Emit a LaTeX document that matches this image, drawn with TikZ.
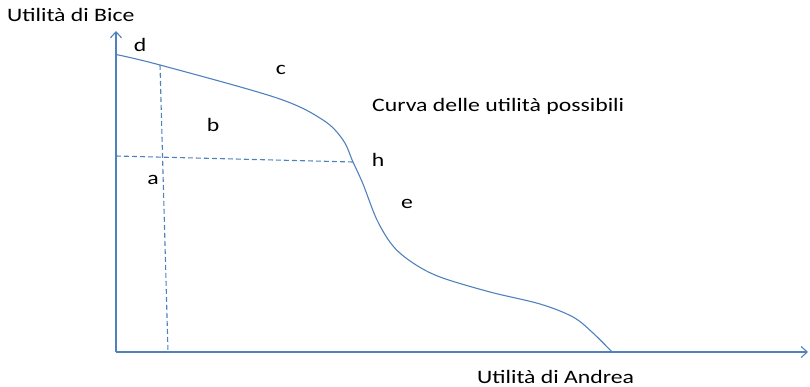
\documentclass[tikz,border=0pt]{standalone}
\usepackage{fontspec}
\setmainfont{Carlito}[FakeStretch=1.25]
\usepackage{xcolor}
\usetikzlibrary{positioning,arrows.meta}
\definecolor{curveblue}{RGB}{79,129,189}

\begin{document}
\begin{tikzpicture}[
    x=1pt, y=-1pt,
    axis/.style={curveblue, line width=1.1pt, -{Straight Barb[length=6pt,width=11pt]}},
    curve/.style={curveblue, line width=1.1pt},
    guide/.style={curveblue, line width=1.1pt, dash pattern=on 5pt off 3pt},
    lbl/.style={font=\fontsize{19}{22}\selectfont, inner sep=0pt},
  ]
  \useasboundingbox (0,0) rectangle (810,387);
  % Axes
  \coordinate (O)    at (116,352);
  \coordinate (ytop) at (116,31);
  \coordinate (xend) at (808,352);
  \draw[axis] (O) -- (ytop);
  \draw[axis] (O) -- (xend);
  % Utility possibility curve
  \coordinate (d) at (116,54.5);
  \coordinate (p) at (160,65);
  \coordinate (h) at (353,162);
  \coordinate (end) at (612,352);
  \draw[curve] plot[smooth, tension=0.55] coordinates {
      (d) (p) (277,98) (323,120) (343,140) (h) (363,184) (377,220)
      (393,246) (413,263) (440,277) (490,292) (540,304) (573,317)
      (593,333) (end)};
  % Dashed guides
  \coordinate (pa) at (168,352);
  \coordinate (ha) at (116,156);
  \draw[guide] (p) -- (pa);
  \draw[guide] (ha) -- (h);
  % Labels
  \node[lbl, anchor=base west] (ylab) at (7,22) {Utilità di Bice};
  \node[lbl, anchor=base west] (xlab) at (477,383) {Utilità di Andrea};
  \node[lbl, anchor=base west] (title) at (372,112) {Curva delle utilità possibili};
  \node[lbl] (ld) at (140,45) {d};
  \node[lbl] (lc) at (281,70) {c};
  \node[lbl] (lb) at (213,125) {b};
  \node[lbl] (lh) at (378,160) {h};
  \node[lbl] (la) at (153,180) {a};
  \node[lbl] (le) at (407,204) {e};
\end{tikzpicture}
\end{document}
